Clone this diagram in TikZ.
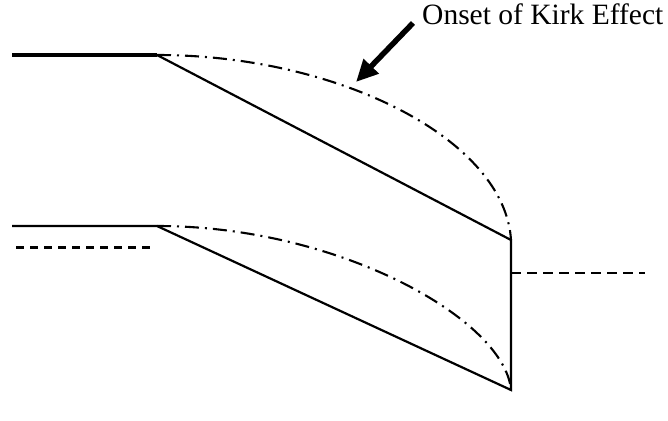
\documentclass[tikz,border=0pt]{standalone}
\usepackage{fontspec}
\setmainfont{Liberation Serif}
\usetikzlibrary{arrows.meta}
\begin{document}
\begin{tikzpicture}[x=1pt,y=-1pt,
  solidline/.style={line width=2.2pt},
  thickline/.style={line width=3.2pt},
  dashline/.style={line width=3pt,dash pattern=on 8pt off 6pt},
  dashlineR/.style={line width=2.6pt,dash pattern=on 10pt off 6pt},
  dashdot/.style={line width=2.1pt,dash pattern=on 14pt off 6pt on 2pt off 6pt},
  kirkarrow/.style={line width=5.5pt,-{Triangle[length=22pt,width=20pt]}},
  label/.style={font=\fontsize{29.5}{34}\selectfont,anchor=base west,inner sep=0pt}]
\useasboundingbox (0,0) rectangle (668,420);
% coordinates
\coordinate (TL) at (12,55);
\coordinate (TK) at (157,55);
\coordinate (TR) at (511,240);
\coordinate (BL) at (12,226);
\coordinate (BK) at (157,226);
\coordinate (BR) at (511,390);
\coordinate (DL1) at (16,247);
\coordinate (DL2) at (152,247);
\coordinate (DR1) at (511,273);
\coordinate (DR2) at (645,273);
\coordinate (A0) at (413,23);
\coordinate (A1) at (356,82);
% lines
\draw[thickline] (TL) -- (TK);
\draw[solidline] (TK) -- (TR) -- (BR) -- (BK) -- (BL);
\draw[dashline] (DL1) -- (DL2);
\draw[dashlineR] (DR1) -- (DR2);
% curves
\draw[dashdot] (TK) .. controls (340,55) and (505,140) .. (TR);
\draw[dashdot] (BK) .. controls (340,226) and (505,320) .. (BR);
% label and arrow
\node[label] (kirk) at (422,25) {Onset of Kirk Effect};
\draw[kirkarrow] (A0) -- (A1);
\end{tikzpicture}
\end{document}
